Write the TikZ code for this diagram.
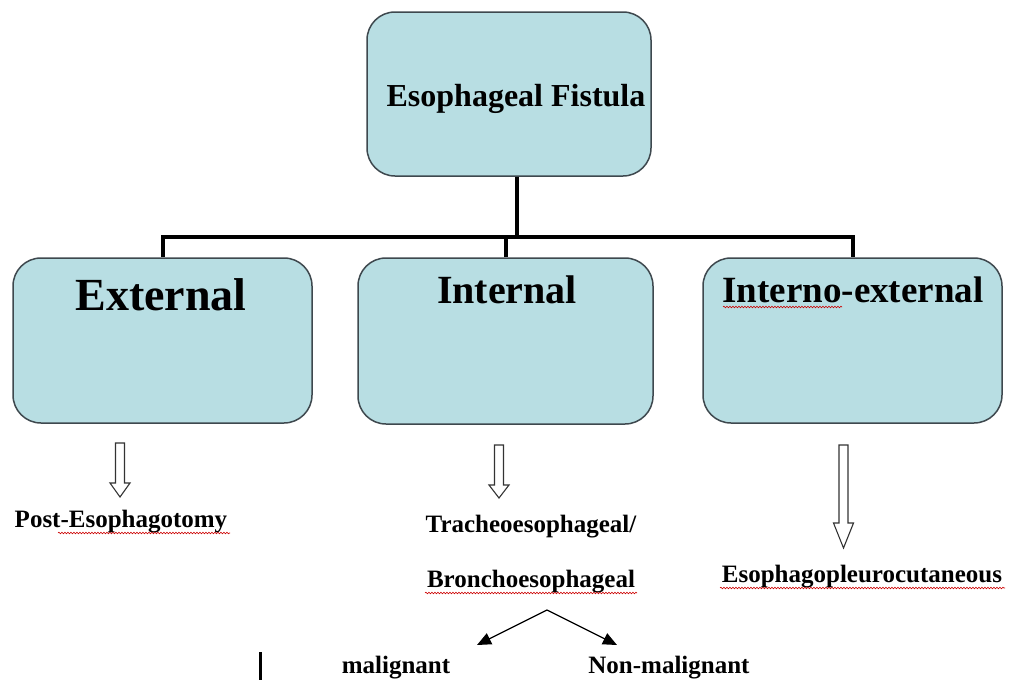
\documentclass[tikz,border=0pt]{standalone}
\usepackage{fontspec}
\setmainfont{Liberation Serif}
\usepackage{tikz}
\usetikzlibrary{arrows.meta}
\usetikzlibrary{decorations.pathmorphing}
\definecolor{boxfill}{RGB}{184,222,227}
\definecolor{boxline}{RGB}{62,72,78}
\tikzset{
  box/.style={draw=boxline, fill=boxfill, line width=1.5pt, rounded corners=28pt},
  title/.style={font=\bfseries\fontsize{#1}{#1}\selectfont, anchor=base, inner sep=0pt},
  tree/.style={line width=4pt, black},
  blockarrow/.style={draw=black!80, line width=1.1pt, fill=white, line join=miter},
  fork/.style={line width=1.3pt, -{Triangle[length=14pt,width=12pt]}},
  spellmark/.style={draw=red!80!black, line width=0.6pt, decorate,
    decoration={snake, segment length=3pt, amplitude=0.8pt}}
}
\newcommand{\catbox}[5]{\node[box, minimum width=#4pt, minimum height=#5pt] (#1) at (#2,#3) {};}
\newcommand{\hollowarrow}[4]{\draw[blockarrow] (#1-4.5,#2) -- (#1+4.5,#2) -- (#1+4.5,#3) -- (#1+10,#3) -- (#1,#4) -- (#1-10,#3) -- (#1-4.5,#3) -- cycle;}
\begin{document}
\begin{tikzpicture}[x=1pt, y=-1pt]
\useasboundingbox (0,0) rectangle (1010,680);
% boxes
\catbox{top}{509}{94}{284}{164}
\catbox{external}{162.5}{340.5}{299}{165}
\catbox{internal}{505.5}{341}{295}{166}
\catbox{internoext}{852.5}{340.5}{299}{165}
% box titles
\node[title=32] (fistulalbl) at (516,106) {Esophageal Fistula};
\node[title=46] (externallbl) at (161,310) {External};
\node[title=40] (internallbl) at (507,303) {Internal};
\node[title=37] (internoextlbl) at (853,302) {Interno-external};
% tree lines
\coordinate (bar) at (517,237);
\draw[tree] (top.south -| bar) -- (bar);
\draw[tree] (external.north) -- (external.north |- bar) -- (internoext.north |- bar) -- (internoext.north);
\draw[tree] (internal.north) -- (internal.north |- bar);
% hollow arrows
\hollowarrow{120}{443}{483}{497}
\hollowarrow{499}{445}{485}{498}
\hollowarrow{843.5}{445}{523}{548}
% sub types
\node[title=25] (postesoph) at (121,527) {Post-Esophagotomy};
\node[title=25] (tracheo) at (531,532) {Tracheoesophageal/};
\node[title=25] (broncho) at (531,587) {Bronchoesophageal};
\node[title=25] (pleuro) at (862,582) {Esophagopleurocutaneous};
\node[title=25] (malig) at (396,673) {malignant};
\node[title=25] (nonmalig) at (669,673) {Non-malignant};
% fork below bronchoesophageal
\coordinate (split) at (547,610);
\coordinate (maltip) at (477,645);
\coordinate (nontip) at (617,645);
\draw[fork] (split) -- (maltip);
\draw[fork] (split) -- (nontip);
% stray bar
\draw[line width=3pt] (260,652) -- (260,680);
% spelling marks
\draw[spellmark] (723,307) -- (842,307);
\draw[spellmark] (58,533) -- (230,533);
\draw[spellmark] (425,593) -- (637,593);
\draw[spellmark] (720,588) -- (1005,588);
\end{tikzpicture}
\end{document}
